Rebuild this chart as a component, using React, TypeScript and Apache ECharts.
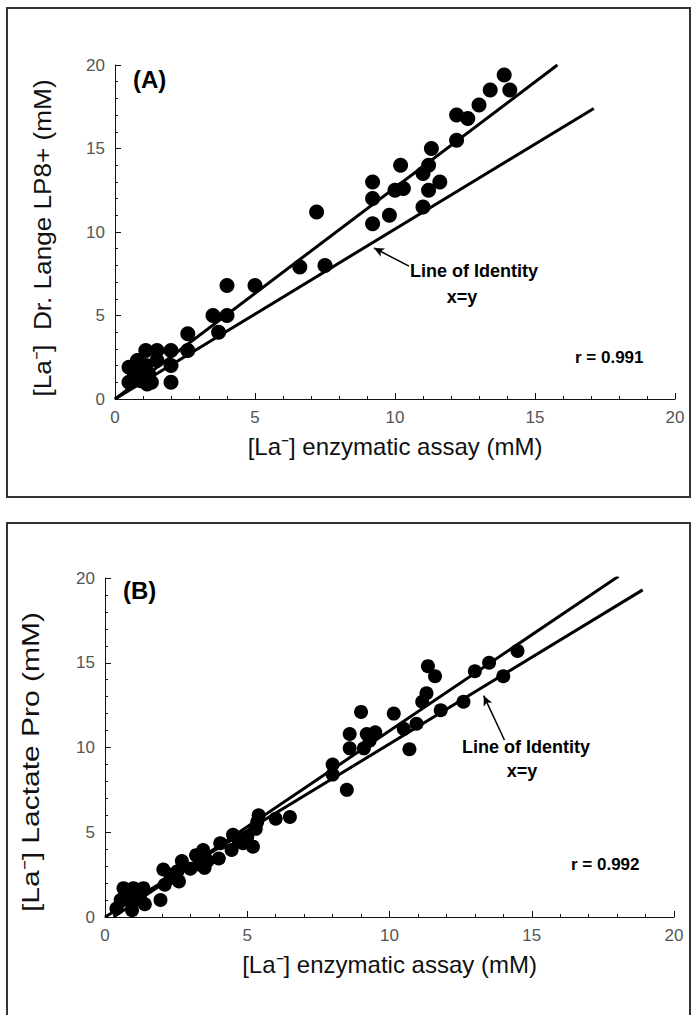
import React, { useEffect, useRef } from "react";
import * as echarts from "echarts";

// Panel A: [La-] enzymatic assay (x) vs Dr. Lange LP8+ (y), mM
const A_POINTS: number[][] = [
  [13.9, 19.4], [13.4, 18.5], [14.1, 18.5], [13.0, 17.6], [12.2, 17.0], [12.6, 16.8],
  [12.2, 15.5], [11.3, 15.0], [11.6, 13.0], [11.2, 14.0], [11.0, 13.5], [11.2, 12.5],
  [11.0, 11.5], [10.2, 14.0], [10.3, 12.6], [10.0, 12.5], [9.2, 13.0], [9.2, 12.0],
  [9.8, 11.0], [9.2, 10.5], [7.2, 11.2], [6.6, 7.9], [7.5, 8.0], [4.0, 6.8],
  [5.0, 6.8], [3.5, 5.0], [4.0, 5.0], [3.7, 4.0], [2.6, 3.9], [2.6, 2.9],
  [2.0, 2.9], [2.0, 2.0], [2.0, 1.0], [1.5, 2.9], [1.5, 2.3], [1.1, 2.9],
  [1.1, 2.0], [0.8, 2.3], [0.5, 1.9], [0.5, 1.0], [0.9, 1.1], [1.15, 0.9],
  [1.2, 1.5], [1.3, 1.0], [0.7, 1.5]
];
const A_FIT: number[][] = [[0, 0], [15.8, 20.0]];
const A_IDENTITY: number[][] = [[0, 0], [17.1, 17.4]];
const A_ARROW: number[][] = [[10.5, 7.96], [9.25, 9.04]];

// Panel B: [La-] enzymatic assay (x) vs Lactate Pro (y), mM
const B_POINTS: number[][] = [
  [14.5, 15.7], [13.5, 15.0], [13.0, 14.5], [14.0, 14.2], [11.35, 14.8], [11.6, 14.2],
  [11.3, 13.2], [11.15, 12.7], [11.8, 12.2], [12.6, 12.7], [10.95, 11.4], [10.5, 11.1],
  [10.15, 12.0], [10.7, 9.9], [9.0, 12.1], [9.5, 10.9], [9.2, 10.8], [8.6, 10.8],
  [8.6, 9.95], [9.1, 9.95], [8.0, 9.0], [8.0, 8.4], [8.5, 7.5], [9.3, 10.4],
  [5.4, 6.0], [6.0, 5.8], [6.5, 5.9], [5.3, 5.2], [5.2, 4.15], [4.85, 4.35],
  [4.5, 4.85], [4.45, 3.95], [4.05, 4.35], [4.0, 3.45], [3.45, 3.95], [3.5, 3.6],
  [3.2, 3.65], [3.5, 2.9], [3.0, 2.85], [2.7, 3.3], [2.55, 2.7], [2.6, 2.1],
  [2.05, 2.8], [2.1, 1.9], [1.95, 1.0], [2.3, 2.3], [0.65, 1.7], [1.0, 1.7],
  [1.35, 1.7], [0.55, 1.0], [0.9, 0.9], [1.25, 1.0], [0.95, 0.4], [0.8, 1.2],
  [1.2, 1.3], [1.4, 0.75], [0.4, 0.5], [1.05, 1.5], [0.7, 1.4], [5.0, 4.7],
  [4.7, 4.5], [5.35, 5.6], [2.35, 2.5], [3.6, 3.3], [3.3, 3.1]
];
const B_FIT: number[][] = [[0.3, 0], [18.05, 20.1]];
const B_IDENTITY: number[][] = [[0, 0], [18.9, 19.3]];
const B_ARROW: number[][] = [[14.04, 10.44], [13.31, 13.06]];

const AXIS_TICKS = { min: 0, max: 20, interval: 5 };
const X_TITLE = "[La\u207B] enzymatic assay (mM)";
const A_Y_TITLE = "[La\u207B]  Dr. Lange LP8+ (mM)";
const B_Y_TITLE = "[La\u207B] Lactate Pro (mM)";
const A_R = "r = 0.991";
const B_R = "r = 0.992";

const FONT = "'Liberation Sans', Arial, Helvetica, sans-serif";

function makeAxis(gridIndex: number, name: string, nameGap: number) {
  return {
    gridIndex,
    type: "value",
    min: AXIS_TICKS.min,
    max: AXIS_TICKS.max,
    interval: AXIS_TICKS.interval,
    name,
    nameLocation: "middle",
    nameGap,
    nameTextStyle: { fontSize: 24, color: "#111", fontFamily: FONT },
    axisLine: { show: true, lineStyle: { color: "#111", width: 1 } },
    axisTick: { show: true, inside: true, length: 6, lineStyle: { color: "#111", width: 1 } },
    minorTick: { show: true, splitNumber: 5, length: 3, lineStyle: { color: "#111", width: 1 } },
    splitLine: { show: false },
    minorSplitLine: { show: false },
    axisLabel: { color: "#555", fontSize: 17, fontFamily: FONT, margin: 10 },
  };
}

function arrowMark(arrow: number[][]) {
  return {
    silent: true,
    symbol: ["none", "arrow"],
    symbolSize: [7, 10],
    label: { show: false },
    lineStyle: { color: "#000", width: 1.5, type: "solid" },
    data: [[{ coord: arrow[0] }, { coord: arrow[1] }]],
  };
}

function lineSeries(idx: number, data: number[][]) {
  return {
    type: "line",
    xAxisIndex: idx,
    yAxisIndex: idx,
    data,
    showSymbol: false,
    symbol: "none",
    lineStyle: { color: "#000", width: 3 },
    silent: true,
    z: 3,
  };
}

function scatterSeries(idx: number, data: number[][], size: number) {
  return {
    type: "scatter",
    xAxisIndex: idx,
    yAxisIndex: idx,
    data,
    symbol: "circle",
    symbolSize: size,
    itemStyle: { color: "#000", opacity: 1 },
    z: 4,
  };
}

function label(text: string, x: number, y: number, size: number, align = "left") {
  return {
    type: "text",
    x,
    y,
    style: {
      text,
      fill: "#000",
      fontSize: size,
      fontWeight: "bold",
      fontFamily: FONT,
      textAlign: align,
      textVerticalAlign: "middle",
    },
    z: 10,
  };
}

function verticalTitle(text: string, x: number, y: number, stretch: number) {
  return {
    type: "text",
    x,
    y,
    rotation: Math.PI / 2,
    scaleX: stretch,
    style: {
      text,
      fill: "#111",
      fontSize: 24,
      fontFamily: FONT,
      textAlign: "center",
      textVerticalAlign: "middle",
    },
    z: 10,
  };
}

export default function App() {
  const ref = useRef<HTMLDivElement>(null);
  useEffect(() => {
    if (!ref.current) return;
    const chart = echarts.init(ref.current, null, { renderer: "svg" });
    chart.setOption({
      animation: false,
      backgroundColor: "#fff",
      grid: [
        { left: 115, top: 65, width: 560, height: 334 },
        { left: 105, top: 578, width: 569, height: 339 },
      ],
      xAxis: [makeAxis(0, X_TITLE, 35), makeAxis(1, X_TITLE, 35)],
      yAxis: [makeAxis(0, "", 60), makeAxis(1, "", 60)],
      series: [
        lineSeries(0, A_FIT),
        { ...lineSeries(0, A_IDENTITY), markLine: arrowMark(A_ARROW) },
        scatterSeries(0, A_POINTS, 15),
        lineSeries(1, B_FIT),
        { ...lineSeries(1, B_IDENTITY), markLine: arrowMark(B_ARROW) },
        scatterSeries(1, B_POINTS, 14),
      ],
      graphic: [
        {
          type: "rect",
          shape: { x: 7, y: 8, width: 683, height: 489 },
          style: { fill: "none", stroke: "#333", lineWidth: 2 },
          silent: true,
        },
        {
          type: "rect",
          shape: { x: 7, y: 523, width: 683, height: 520 },
          style: { fill: "none", stroke: "#333", lineWidth: 2 },
          silent: true,
        },
        verticalTitle(A_Y_TITLE, 42, 238, 1.09),
        verticalTitle(B_Y_TITLE, 31, 762, 1.25),
        label("(A)", 133, 79, 24),
        label("Line of Identity", 410, 271, 18),
        label("x=y", 462, 297, 18, "center"),
        label(A_R, 575, 357, 17),
        label("(B)", 123, 590, 24),
        label("Line of Identity", 462, 747, 18),
        label("x=y", 522, 771, 18, "center"),
        label(B_R, 571, 864, 17),
      ],
    });
    return () => chart.dispose();
  }, []);
  return (
    <div
      ref={ref}
      style={{ position: "absolute", left: 0, top: 0, width: 694, height: 1015 }}
    />
  );
}
